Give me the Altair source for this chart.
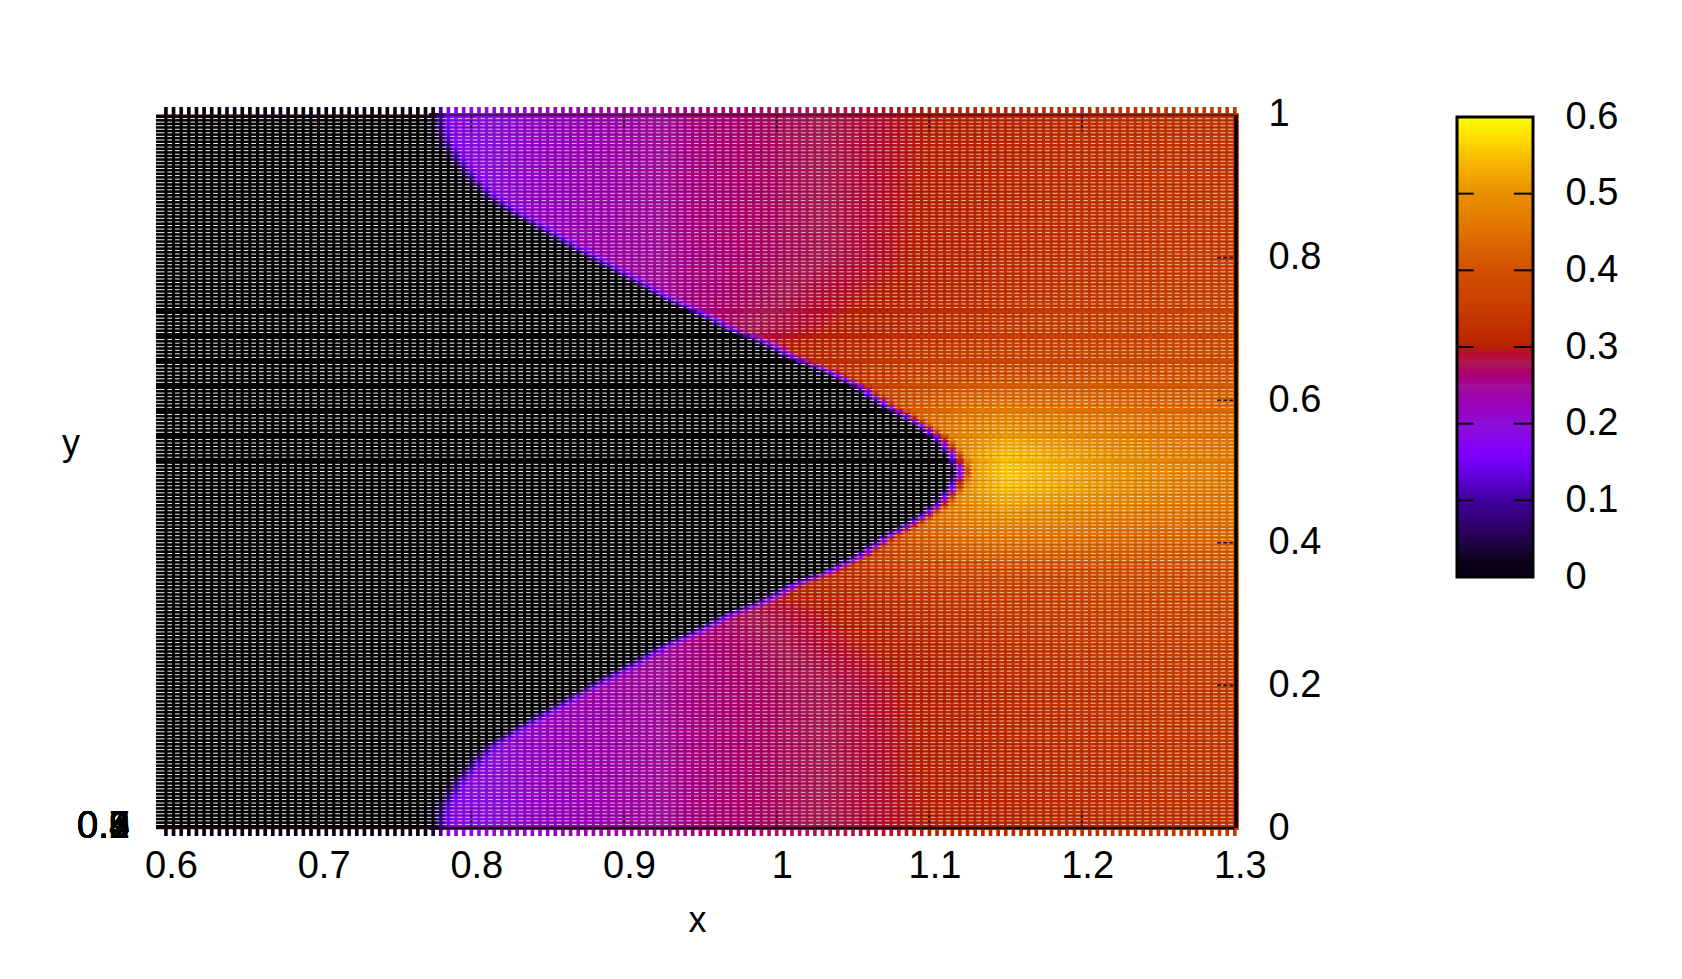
import numpy as np
import pandas as pd
import altair as alt

alt.data_transformers.disable_max_rows()

# Values -----------------------------------------------------------------
X_TICKS = [0.6, 0.7, 0.8, 0.9, 1.0, 1.1, 1.2, 1.3]
Y_TICKS = [0, 0.2, 0.4, 0.6, 0.8, 1]
CB_TICKS = [0, 0.1, 0.2, 0.3, 0.4, 0.5, 0.6]
Z_OVERPRINT = ["0.1", "0.2", "0.3", "0.4", "0.5", "0.6", "0.7", "0.8", "0.9"]

# colour bar stops
PAL_V = [0, 0.02, 0.05, 0.1, 0.13, 0.16, 0.2, 0.25, 0.28, 0.3, 0.35, 0.4, 0.45, 0.5, 0.55, 0.6]
PAL_C = ["#000000", "#0c0018", "#250050", "#4000a0", "#6000d8", "#8000ff", "#8a10d8", "#a0109a", "#a81c50",
         "#b82000", "#c83c00", "#d05000", "#e07000", "#e89000", "#f8c000", "#ffff00"]

# edge of the black region: distance from y=0.5, and x of the edge
FRONT_D = [0.0, 0.023, 0.046, 0.069, 0.09, 0.1185, 0.14, 0.158, 0.182, 0.2, 0.226, 0.242,
           0.276, 0.301, 0.332, 0.36, 0.383, 0.416, 0.439, 0.467, 0.5]
FRONT_X = [1.116, 1.111, 1.102, 1.087, 1.069, 1.049, 1.029, 1.0065, 0.986, 0.964, 0.941,
           0.9235, 0.896, 0.8737, 0.8486, 0.826, 0.8085, 0.7935, 0.785, 0.777, 0.7735]

# level read along rows of the map, row = distance from y=0.5
LEVEL_X = [0.75, 0.85, 0.95, 1.05, 1.1, 1.125, 1.15, 1.2, 1.25, 1.3]
LEVEL_D = [0.0, 0.03, 0.06, 0.1, 0.15, 0.2, 0.25, 0.3, 0.5]
LEVELS = [
    [0.30, 0.35, 0.40, 0.45, 0.48, 0.50, 0.56, 0.52, 0.49, 0.47],
    [0.30, 0.35, 0.40, 0.44, 0.47, 0.50, 0.54, 0.51, 0.48, 0.46],
    [0.28, 0.33, 0.38, 0.42, 0.45, 0.48, 0.50, 0.48, 0.46, 0.45],
    [0.25, 0.30, 0.33, 0.36, 0.42, 0.44, 0.45, 0.44, 0.43, 0.43],
    [0.23, 0.26, 0.29, 0.33, 0.36, 0.37, 0.375, 0.385, 0.39, 0.395],
    [0.20, 0.23, 0.265, 0.305, 0.325, 0.335, 0.345, 0.36, 0.37, 0.38],
    [0.18, 0.22, 0.26, 0.295, 0.31, 0.32, 0.33, 0.345, 0.355, 0.365],
    [0.17, 0.22, 0.26, 0.285, 0.305, 0.31, 0.32, 0.335, 0.345, 0.35],
    [0.17, 0.215, 0.26, 0.285, 0.30, 0.305, 0.31, 0.32, 0.33, 0.335],
]
# rows of the mesh where no white gap shows
SOLID_ROWS = [0.725, 0.69, 0.655, 0.62, 0.585, 0.55, 0.515]
RAMP = 0.018
STEP = 0.005
PX = 1527
X_LEFT, X_RIGHT = 0.5935, 1.3034
Y_LOW, Y_HIGH = -0.0112, 1.0112
W, H = 1084, 729

# ------------------------------------------------------------------------
xs = np.round(np.arange(0.6, 1.3 + 1e-9, STEP), 3)
ys = np.round(np.arange(0.0, 1.0 + 1e-9, STEP), 3)
levels = np.array(LEVELS)


def front(y):
    return np.interp(abs(y - 0.5), FRONT_D, FRONT_X)


def level(x, y):
    by_d = [np.interp(x, LEVEL_X, r) for r in levels]
    v = np.interp(abs(y - 0.5), LEVEL_D, by_d)
    t = np.clip((x - front(y) + 0.003) / RAMP, 0, 1)
    return float(v * (t * t * (3 - 2 * t)))


cells = []
for x in xs:
    for y in ys:
        v = level(x, y)
        if v > 0.004:
            cells.append(dict(x=x - 0.00265, x2=x + 0.00265, y=y - 0.0027, y2=y + 0.0027, v=round(v, 3)))
cells = pd.DataFrame(cells)

white_a, white_b, white_c = [], [], []
for y in ys[1:-1]:
    if any(abs(y - s) < 1e-6 for s in SOLID_ROWS):
        continue
    k = np.ceil((front(y) - 0.6) / STEP)
    fx = 0.6 + k * STEP
    off = 1.5 / PX
    white_c.append(dict(x=X_LEFT, x2=0.6 - off, y=y))
    white_a.append(dict(x=0.6 + off, x2=fx + off, y=y))
    white_b.append(dict(x=fx + off, x2=1.3 - off, y=y))

ticks = []
for x in xs:
    ticks.append(dict(x=x - 0.0012, x2=x + 0.0012, y=1.0, y2=Y_HIGH, v=round(level(x, 1.0), 3)))
    ticks.append(dict(x=x - 0.0012, x2=x + 0.0012, y=Y_LOW, y2=0.0, v=round(level(x, 0.0), 3)))
ticks = pd.DataFrame(ticks)

xs_scale = alt.Scale(domain=[X_LEFT, X_RIGHT], nice=False, zero=False)
ys_scale = alt.Scale(domain=[Y_LOW, Y_HIGH], nice=False, zero=False)
color = alt.Color("v:Q", legend=None, scale=alt.Scale(domain=PAL_V, range=PAL_C, clamp=True))
font = "Liberation Sans"
FS = 38

x_enc = alt.X("x:Q", scale=xs_scale, title="x", axis=alt.Axis(
    values=X_TICKS, tickSize=0, domain=False, grid=False, labelFontSize=FS, titleFontSize=FS - 2,
    titleFontWeight="normal", labelPadding=11, labelOverlap=False, labelFlush=False, labelOffset=5,
    format="~g", titlePadding=18, titleColor="black", labelColor="black", titleX=541))
y_enc = alt.Y("y:Q", scale=ys_scale, title=None, axis=alt.Axis(
    values=Y_TICKS, orient="right", tickSize=0, domain=False, grid=False, labelFontSize=FS,
    labelPadding=28, labelOverlap=False, format="~g", labelColor="black", labelFlush=False))

bg = alt.Chart(pd.DataFrame(dict(x=[X_LEFT], x2=[1.3], y=[0.0], y2=[1.0]))).mark_rect(color="black").encode(
    x=x_enc, x2="x2:Q", y=y_enc, y2="y2:Q")
heat = alt.Chart(cells).mark_rect(strokeWidth=0).encode(
    x=alt.X("x:Q", scale=xs_scale), x2="x2:Q", y=alt.Y("y:Q", scale=ys_scale), y2="y2:Q", color=color)
tick_marks = alt.Chart(ticks).mark_rect(strokeWidth=0).encode(
    x=alt.X("x:Q", scale=xs_scale), x2="x2:Q", y=alt.Y("y:Q", scale=ys_scale), y2="y2:Q", color=color)


def rows(frame, **kw):
    return alt.Chart(pd.DataFrame(frame)).mark_rule(color="white", strokeWidth=0.95, **kw).encode(
        x=alt.X("x:Q", scale=xs_scale), x2="x2:Q", y=alt.Y("y:Q", scale=ys_scale))


row_black = rows(white_a, strokeDash=[4.63, 3.0], opacity=1)
row_col = rows(white_b, strokeDash=[4.63, 3.0], opacity=0.72)
row_left = rows(white_c, opacity=1)


def edge(xa, xb, ya, yb, col, width, **kw):
    d = pd.DataFrame(dict(x=xa, x2=xb, y=ya, y2=yb))
    return alt.Chart(d).mark_rule(color=col, strokeWidth=width, **kw).encode(
        x=alt.X("x:Q", scale=xs_scale), x2="x2:Q", y=alt.Y("y:Q", scale=ys_scale), y2="y2:Q")


right_line = edge([1.3008], [1.3008], [0.0], [1.0], "black", 3.5)
bottom_line = edge([X_LEFT], [1.3], [0.0], [0.0], "#1a0508", 2.5)
top_line = edge([X_LEFT], [1.3], [1.0], [1.0], "#2a0a10", 1.5, opacity=0.7)
yt = [v for v in Y_TICKS if 0 < v < 1]
in_y = edge([1.2885] * len(yt), [1.3] * len(yt), yt, yt, "#30101a", 1.6, strokeDash=[4, 2])
xt = [v for v in X_TICKS if 0.6 < v < 1.3]
in_top = edge(xt, xt, [1.0] * len(xt), [0.977] * len(xt), "#30101a", 1.6, strokeDash=[3, 2])
in_bot = edge(xt, xt, [0.0] * len(xt), [0.023] * len(xt), "#30101a", 1.6, strokeDash=[3, 2])

over = alt.Chart(pd.DataFrame(dict(t=Z_OVERPRINT))).mark_text(
    fontSize=FS, align="left", baseline="middle", color="black").encode(
    x=alt.value(-79), y=alt.value(720), text="t:N")
ylab = alt.Chart(pd.DataFrame(dict(t=["y"]))).mark_text(
    fontSize=FS - 2, align="center", baseline="middle", color="black").encode(
    x=alt.value(-85), y=alt.value(337), text="t:N")

main = alt.layer(bg, heat, tick_marks, row_black, row_col, row_left, right_line, bottom_line,
                 top_line, in_y, in_top, in_bot, over, ylab).properties(width=W, height=H)

# colour bar --------------------------------------------------------------
cb_per_unit = 460 / 0.6
cb_top = 0.6 + 10 / cb_per_unit
cb_bot = 0.6 + 10 / cb_per_unit - H / cb_per_unit
cb_v = np.round(np.arange(0, 0.6, 0.004), 3)
cb_df = pd.DataFrame(dict(a=0, b=1, y=cb_v, y2=np.minimum(cb_v + 0.006, 0.6), v=cb_v + 0.002))
cb_x = alt.Scale(domain=[0, 1], nice=False, zero=False)
cb_y = alt.Scale(domain=[cb_bot, cb_top], nice=False, zero=False)
bar = alt.Chart(cb_df).mark_rect(strokeWidth=0).encode(
    x=alt.X("a:Q", scale=cb_x, axis=None), x2="b:Q",
    y=alt.Y("y:Q", scale=cb_y, title=None, axis=alt.Axis(
        values=CB_TICKS, orient="right", tickSize=0, domain=False, grid=False, labelFontSize=FS,
        labelPadding=32, labelOverlap=False, format="~g", labelColor="black", labelFlush=False)),
    y2="y2:Q", color=color)
frame = alt.Chart(pd.DataFrame(dict(a=[0], b=[1], y=[0.0], y2=[0.6]))).mark_rect(
    fill=None, stroke="black", strokeWidth=3).encode(
    x=alt.X("a:Q", scale=cb_x), x2="b:Q", y=alt.Y("y:Q", scale=cb_y), y2="y2:Q")
inner = [v for v in CB_TICKS if 0 < v < 0.6]
cb_ticks = []
for v in inner:
    cb_ticks += [dict(a=0, b=0.22, y=v), dict(a=0.75, b=1, y=v)]
cb_t = alt.Chart(pd.DataFrame(cb_ticks)).mark_rule(color="#100008", strokeWidth=2).encode(
    x=alt.X("a:Q", scale=cb_x), x2="b:Q", y=alt.Y("y:Q", scale=cb_y))
cbar = alt.layer(bar, frame, cb_t).properties(width=76, height=H)

chart = alt.hconcat(main, cbar, spacing=134).resolve_scale(
    color="independent", x="independent", y="independent"
).configure(font=font).configure_view(stroke=None).configure_axis(
    labelFont=font, titleFont=font).properties(
    background="white", padding={"left": 54, "top": 87, "right": 5, "bottom": 5})

chart.save("out.html", embed_options={"renderer": "svg", "actions": False})
